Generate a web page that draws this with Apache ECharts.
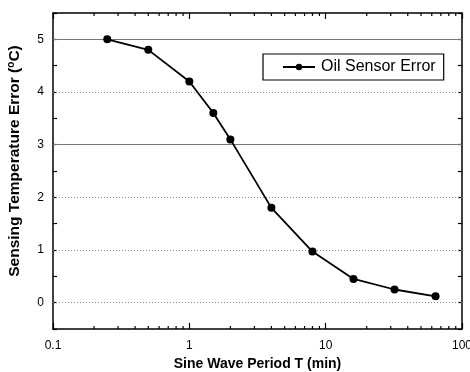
<!DOCTYPE html>
<html><head><meta charset="utf-8">
<script src="https://cdn.jsdelivr.net/npm/echarts@6/dist/echarts.min.js"></script>
<style>html,body{margin:0;padding:0;background:#fff}#c{width:470px;height:372px}</style>
</head><body><div id="c"></div>
<script>
const periods = [0.25, 0.5, 1, 1.5, 2, 4, 8, 16, 32, 64];
const errors = [5.0, 4.8, 4.2, 3.6, 3.1, 1.8, 0.97, 0.45, 0.25, 0.12];
const seriesName = 'Oil Sensor Error';
const xMinorTicks = [0.2,0.3,0.4,0.5,0.6,0.7,0.8,0.9,2,3,4,5,6,7,8,9,20,30,40,50,60,70,80,90];
const dottedGrid = [0, 1, 2, 4];
const solidGrid = [3, 5];
const yMin = -0.5, yMax = 5.5;

const font = 'Liberation Sans, Arial, sans-serif';
const chart = echarts.init(document.getElementById('c'));
const axisLine = {show: true, onZero: false, lineStyle: {color: '#000', width: 1.5}};
chart.setOption({
  animation: false,
  grid: {left: 53, right: 8, top: 13, bottom: 43, containLabel: false, outerBoundsMode: 'none'},
  legend: {
    left: 263, top: 54, padding: [5, 8, 5, 19],
    borderColor: '#000', borderWidth: 1.2,
    itemWidth: 32, itemHeight: 8,
    textStyle: {fontFamily: font, fontSize: 16, color: '#000', padding: [0, 0, 0, 1]},
    data: [seriesName]
  },
  xAxis: [{
    type: 'log', logBase: 10, min: 0.1, max: 100,
    name: 'Sine Wave Period T (min)', nameLocation: 'middle', nameGap: 28, nameMoveOverlap: false,
    nameTextStyle: {fontFamily: font, fontWeight: 'bold', fontSize: 14, color: '#000'},
    axisLine: axisLine,
    axisTick: {inside: true, length: 6, lineStyle: {color: '#000', width: 1.2}},
    axisLabel: {fontFamily: font, fontSize: 12, color: '#000', margin: 11},
    splitLine: {show: false}
  }, {
    type: 'log', logBase: 10, min: 0.1, max: 100, position: 'top',
    axisLine: axisLine,
    axisTick: {inside: true, length: 6, lineStyle: {color: '#000', width: 1.2}},
    axisLabel: {show: false}, splitLine: {show: false}
  }],
  yAxis: [{
    type: 'value', min: yMin, max: yMax, interval: 0.5,
    name: 'Sensing Temperature Error ({s|o}C)', nameLocation: 'middle', nameGap: 29, nameMoveOverlap: false,
    nameTextStyle: {fontFamily: font, fontWeight: 'bold', fontSize: 15.5, color: '#000',
      padding: [0, 0, 0, 20],
      rich: {s: {fontFamily: font, fontWeight: 'bold', fontSize: 10, verticalAlign: 'bottom', padding: [0,0,8,0], color: '#000'}}},
    axisLine: axisLine,
    axisTick: {inside: true, length: 4, lineStyle: {color: '#000', width: 1.2}},
    axisLabel: {fontFamily: font, fontSize: 12, color: '#000', margin: 9,
      formatter: v => Number.isInteger(v) ? String(v) : ''},
    splitLine: {show: false}
  }, {
    type: 'value', min: yMin, max: yMax, interval: 0.5, position: 'right',
    axisLine: axisLine,
    axisTick: {inside: true, length: 4, lineStyle: {color: '#000', width: 1.2}},
    axisLabel: {show: false}, splitLine: {show: false}
  }],
  series: [{
    name: seriesName, type: 'line',
    data: periods.map((p, i) => [p, errors[i]]),
    symbol: 'circle', symbolSize: 8,
    lineStyle: {color: '#000', width: 1.8},
    itemStyle: {color: '#000'},
    z: 5,
    markLine: {
      silent: true, symbol: 'none', label: {show: false},
      data: dottedGrid.map(v => ({yAxis: v, lineStyle: {color: '#888', type: [1, 2], width: 1}}))
        .concat(solidGrid.map(v => ({yAxis: v, lineStyle: {color: '#777', type: 'solid', width: 1.2}})))
    }
  }, {
    type: 'custom', silent: true, clip: false, z: 4,
    data: xMinorTicks.map(v => [v]),
    renderItem: (params, api) => {
      const b = api.coord([api.value(0), yMin]);
      const t = api.coord([api.value(0), yMax]);
      return {type: 'group', children: [
        {type: 'line', shape: {x1: b[0], y1: b[1], x2: b[0], y2: b[1] - 3}, style: {stroke: '#000', lineWidth: 1.2}},
        {type: 'line', shape: {x1: t[0], y1: t[1], x2: t[0], y2: t[1] + 3}, style: {stroke: '#000', lineWidth: 1.2}}
      ]};
    }
  }]
});
</script></body></html>
